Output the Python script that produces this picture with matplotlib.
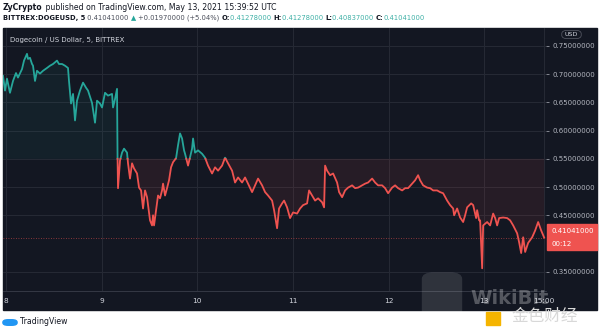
import numpy as np
import matplotlib
matplotlib.use("Agg")
import matplotlib.pyplot as plt
from matplotlib.patches import Rectangle, FancyBboxPatch

# DOGE/USD 5-minute closes, hours counted from May 8 00:00 UTC
hours = [-0.75, -0.25, 0.25, 1.0, 1.76, 2.51, 3.01, 4.02, 4.52, 5.27,
         5.52, 6.02, 6.53, 6.78, 7.28, 7.78, 8.53, 9.29, 10.29, 11.04,
         11.8, 12.8, 13.3, 14.06, 14.81, 15.56, 15.81, 16.32, 16.82, 17.32,
         17.82, 18.57, 19.33, 20.08, 20.58, 21.59, 22.34, 22.84, 23.59, 24.1,
         24.85, 25.6, 26.61, 26.86, 27.36, 27.86, 27.99, 28.11, 28.61, 29.12,
         29.62, 30.37, 30.62, 31.12, 31.63, 32.13, 32.88, 33.38, 33.89, 34.39,
         34.89, 35.39, 35.64, 36.14, 36.65, 36.9, 37.15, 37.9, 38.15, 38.65,
         39.16, 39.41, 39.91, 40.41, 40.91, 41.42, 41.92, 42.67, 43.17, 43.67,
         44.18, 44.68, 44.93, 45.68, 46.69, 46.94, 47.44, 48.19, 49.2, 49.95,
         50.7, 51.71, 52.46, 53.21, 54.22, 54.97, 55.72, 56.73, 57.48, 58.23,
         59.24, 59.99, 60.74, 61.75, 62.5, 63.25, 64.26, 65.01, 65.76, 66.77,
         67.27, 68.02, 68.52, 69.28, 69.78, 70.53, 71.28, 72.04, 73.04, 73.79,
         74.55, 75.55, 76.05, 76.81, 77.56, 78.31, 79.32, 79.82, 80.07, 80.57,
         81.32, 82.08, 83.08, 83.58, 84.34, 85.09, 85.84, 86.85, 87.6, 88.35,
         89.36, 90.11, 90.86, 91.87, 92.62, 93.37, 94.38, 95.13, 95.88, 96.89,
         97.64, 98.39, 99.4, 100.15, 100.9, 101.91, 102.66, 103.41, 103.91, 104.67,
         105.67, 106.42, 107.18, 108.18, 108.93, 109.69, 110.69, 111.44, 112.2, 112.45,
         113.2, 113.95, 114.71, 115.21, 115.71, 116.72, 117.22, 117.97, 118.22, 118.72,
         118.97, 119.48, 119.73, 120.73, 121.48, 122.24, 122.74, 123.24, 123.74, 124.75,
         125.75, 126.5, 127.26, 128.26, 128.76, 129.27, 129.77, 130.27, 131.02, 132.03,
         132.78, 133.53, 134.29, 135.04]
price = [0.697, 0.671, 0.692, 0.667, 0.688, 0.702, 0.694, 0.709, 0.724, 0.736,
         0.727, 0.729, 0.718, 0.715, 0.688, 0.706, 0.701, 0.706, 0.711, 0.715,
         0.718, 0.724, 0.718, 0.718, 0.715, 0.711, 0.688, 0.648, 0.665, 0.618,
         0.653, 0.671, 0.685, 0.676, 0.671, 0.649, 0.614, 0.653, 0.648, 0.641,
         0.667, 0.662, 0.665, 0.641, 0.656, 0.674, 0.552, 0.498, 0.547, 0.561,
         0.568, 0.561, 0.542, 0.515, 0.542, 0.533, 0.524, 0.499, 0.494, 0.462,
         0.494, 0.482, 0.468, 0.441, 0.432, 0.450, 0.432, 0.471, 0.485, 0.480,
         0.494, 0.506, 0.485, 0.498, 0.512, 0.535, 0.544, 0.551, 0.574, 0.595,
         0.586, 0.565, 0.559, 0.538, 0.568, 0.586, 0.561, 0.565, 0.559, 0.552,
         0.538, 0.524, 0.535, 0.529, 0.538, 0.552, 0.542, 0.529, 0.508, 0.517,
         0.508, 0.517, 0.506, 0.491, 0.503, 0.515, 0.503, 0.491, 0.485, 0.476,
         0.459, 0.427, 0.462, 0.471, 0.476, 0.464, 0.445, 0.455, 0.453, 0.462,
         0.468, 0.471, 0.494, 0.485, 0.476, 0.480, 0.473, 0.464, 0.538, 0.529,
         0.521, 0.524, 0.508, 0.491, 0.482, 0.494, 0.499, 0.503, 0.498, 0.499,
         0.503, 0.506, 0.508, 0.515, 0.508, 0.503, 0.503, 0.498, 0.489, 0.499,
         0.503, 0.498, 0.494, 0.498, 0.498, 0.506, 0.512, 0.521, 0.512, 0.503,
         0.499, 0.498, 0.494, 0.494, 0.491, 0.489, 0.476, 0.468, 0.462, 0.450,
         0.462, 0.446, 0.438, 0.450, 0.464, 0.471, 0.468, 0.445, 0.459, 0.441,
         0.441, 0.356, 0.432, 0.438, 0.432, 0.453, 0.445, 0.432, 0.445, 0.446,
         0.445, 0.441, 0.432, 0.418, 0.402, 0.383, 0.411, 0.385, 0.401, 0.411,
         0.423, 0.438, 0.423, 0.41041]

baseline = 0.55
last_price = 0.41041
day_ticks = [0, 24, 48, 72, 96, 120, 135]
day_labels = ["8", "9", "10", "11", "12", "13", "15:00"]
price_ticks = [0.35, 0.45, 0.50, 0.55, 0.60, 0.65, 0.70, 0.75]

BG = "#131722"
GRID = "#262a35"
UP = "#26a69a"
DOWN = "#ef5350"
AXTXT = "#b2b5be"

W, H = 600, 329
fig = plt.figure(figsize=(W / 100, H / 100), dpi=100, facecolor="white")


def fx(px):
    return px / W


def fy(py):
    return 1 - py / H


# dark chart panel, behind the axes
fig.patches.append(Rectangle((fx(3), fy(310)), fx(594), (310 - 28) / H,
                             transform=fig.transFigure, color=BG, zorder=-5))

ax = fig.add_axes([fx(3), fy(291), fx(543), (291 - 28) / H])
ax.set_zorder(1)
ax.set_facecolor(BG)


def split_at_base(x, y, b):
    xs, ys = [x[0]], [y[0]]
    for i in range(1, len(x)):
        if (y[i - 1] - b) * (y[i] - b) < 0:
            f = (b - y[i - 1]) / (y[i] - y[i - 1])
            xs.append(x[i - 1] + f * (x[i] - x[i - 1]))
            ys.append(b)
        xs.append(x[i])
        ys.append(y[i])
    return np.array(xs), np.array(ys)


xs, ys = split_at_base(hours, price, baseline)
ax.fill_between(xs, ys, baseline, where=ys >= baseline, color=UP, alpha=0.07, lw=0)
ax.fill_between(xs, ys, baseline, where=ys <= baseline, color=DOWN, alpha=0.09, lw=0)
ax.plot(xs, np.where(ys >= baseline, ys, np.nan), color=UP, lw=1.3, zorder=3)
ax.plot(xs, np.where(ys <= baseline, ys, np.nan), color=DOWN, lw=1.3, zorder=3)
ax.axhline(last_price, color=DOWN, lw=0.6, ls=(0, (1, 2)), alpha=0.7)

ax.set_xlim(-0.75, 135.5)
ax.set_ylim(0.3158, 0.7818)
ax.set_xticks(day_ticks)
ax.set_xticklabels(day_labels)
ax.set_yticks(price_ticks)
ax.set_yticklabels(["%.8f" % v for v in price_ticks])
ax.yaxis.tick_right()
ax.grid(True, color=GRID, lw=0.7)
ax.set_axisbelow(True)
ax.tick_params(axis="y", colors=AXTXT, labelsize=5.0, length=2, pad=3, width=0.5)
ax.tick_params(axis="x", colors=AXTXT, labelsize=5.3, length=0, pad=5)
for t in ax.get_xticklabels():
    t.set_color("#d1d4dc")
for s in ax.spines.values():
    s.set_visible(False)
ax.spines["bottom"].set_visible(True)
ax.spines["bottom"].set_color("#3a3e4a")
ax.spines["bottom"].set_linewidth(0.6)

ax.text(0.012, 0.965, "Dogecoin / US Dollar, 5, BITTREX", transform=ax.transAxes,
        color="#d1d4dc", fontsize=5.0, va="top", ha="left")

# currency tag on the price scale
fig.patches.append(FancyBboxPatch((fx(563), fy(38)), fx(17), 7 / H,
                                  boxstyle="round,pad=0.002,rounding_size=0.01",
                                  transform=fig.transFigure, fc=BG, ec="#5d606b", lw=0.5,
                                  zorder=2))
fig.text(fx(571.5), fy(34.5), "USD", color="#d1d4dc", fontsize=4.6, ha="center",
         va="center", zorder=3)

# last price label
fig.patches.append(Rectangle((fx(547), fy(250)), fx(50), 26 / H,
                             transform=fig.transFigure, color=DOWN, zorder=5))
fig.text(fx(551), fy(231), "%.8f" % last_price, color="white", fontsize=5.0,
         va="center", zorder=6)
fig.text(fx(551), fy(244), "00:12", color="white", fontsize=5.0, va="center", zorder=6)

# header lines
renderer = fig.canvas.get_renderer()


def text_run(x, y, pieces, size):
    for s, color, weight in pieces:
        t = fig.text(x, y, s, color=color, fontsize=size, fontweight=weight, va="center")
        bb = t.get_window_extent(renderer)
        x = bb.x1 / fig.bbox.width


DARK = "#131722"
VAL = "#3fb0a6"
text_run(fx(3), fy(7), [("ZyCrypto", DARK, "bold"),
                        (" published on TradingView.com, May 13, 2021 15:39:52 UTC", DARK, "normal")], 5.6)
text_run(fx(3), fy(18), [("BITTREX:DOGEUSD, 5", DARK, "bold"),
                         (" 0.41041000 ", "#4a4e5a", "normal"),
                         ("\u25b2", UP, "normal"),
                         (" +0.01970000 (+5.04%) ", "#4a4e5a", "normal"),
                         ("O:", DARK, "bold"), ("0.41278000 ", VAL, "normal"),
                         ("H:", DARK, "bold"), ("0.41278000 ", VAL, "normal"),
                         ("L:", DARK, "bold"), ("0.40837000 ", VAL, "normal"),
                         ("C:", DARK, "bold"), ("0.41041000", VAL, "normal")], 4.85)

# footer logo
fig.patches.append(FancyBboxPatch((fx(4), fy(325)), fx(12), 5 / H,
                                  boxstyle="round,pad=0.003,rounding_size=0.01",
                                  transform=fig.transFigure, fc="#2196f3", ec="none"))
fig.text(fx(20), fy(322), "TradingView", color="#131722", fontsize=5.6, va="center")

# watermark
fig.patches.append(FancyBboxPatch((fx(423), fy(319)), fx(38), 46 / H,
                                  boxstyle="round,pad=0.002,rounding_size=0.02",
                                  transform=fig.transFigure, fc="white", ec="none",
                                  alpha=0.12, zorder=7))
fig.text(fx(470), fy(298), "WikiBit", color="white", alpha=0.28, fontsize=14,
         va="center", fontweight="bold", zorder=7)
fig.patches.append(Rectangle((fx(486), fy(325)), fx(14), 13 / H,
                             transform=fig.transFigure, color="#f5b400", zorder=7))
fig.text(fx(511), fy(316), "金色财经", color="#d8d8d8", fontsize=12,
         family=["Noto Sans CJK SC", "DejaVu Sans"], va="center", zorder=8)

fig.savefig("out.png", dpi=100, facecolor="white")
